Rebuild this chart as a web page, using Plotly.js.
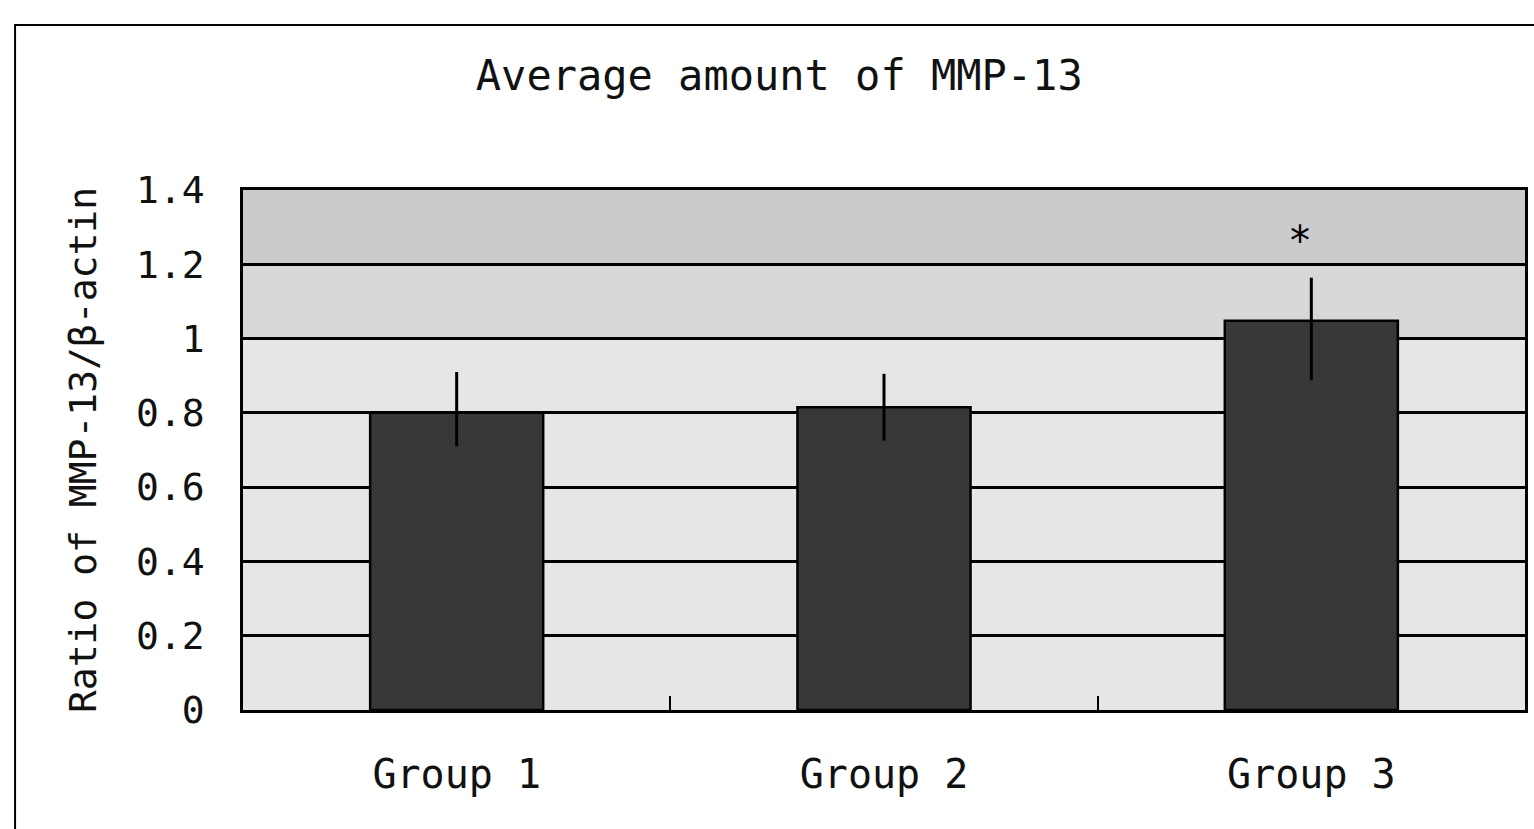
<!DOCTYPE html>
<html>
<head>
<meta charset="utf-8">
<script src="https://cdn.plot.ly/plotly-3.0.1.min.js"></script>
<style>
html,body{margin:0;padding:0;background:#fff;}
#chart{width:1534px;height:829px;}
</style>
</head>
<body>
<div id="chart"></div>
<script>
var categories = ["Group 1", "Group 2", "Group 3"];
var values = [0.80, 0.815, 1.048];
var errPlus = [0.11, 0.09, 0.116];
var errMinus = [0.09, 0.09, 0.16];
var tickVals = [0, 0.2, 0.4, 0.6, 0.8, 1, 1.2, 1.4];
var tickText = ["0", "0.2", "0.4", "0.6", "0.8", "1", "1.2", "1.4"];
var sigMarkY = 1.285;

var FONT = "DejaVu Sans Mono, monospace";

var trace = {
  type: "bar",
  x: categories,
  y: values,
  marker: {color: "#383838", line: {color: "#000", width: 2.5}},
  error_y: {type: "data", symmetric: false, array: errPlus, arrayminus: errMinus,
            width: 0, thickness: 3, color: "#000"},
  hoverinfo: "x+y"
};

var layout = {
  width: 1534, height: 829,
  margin: {l: 243, r: 9, t: 190, b: 119},
  paper_bgcolor: "#fff",
  plot_bgcolor: "#e6e6e6",
  showlegend: false,
  bargap: 0.595,
  title: {text: "Average amount of MMP-13", font: {family: FONT, size: 42, color: "#111"},
          x: 0.508, xref: "container", y: 0.909, yref: "container", yanchor: "middle"},
  xaxis: {
    type: "category",
    showgrid: false, zeroline: false,
    showline: true, linecolor: "#000", linewidth: 2.5, mirror: true,
    ticks: "inside", tickson: "boundaries", ticklen: 14, tickwidth: 2, tickcolor: "#000",
    ticklabelstandoff: 27,
    tickfont: {family: FONT, size: 40, color: "#111"}
  },
  yaxis: {
    range: [0, 1.4],
    tickvals: tickVals, ticktext: tickText,
    showgrid: true, gridcolor: "#000", gridwidth: 3,
    zeroline: false,
    showline: true, linecolor: "#000", linewidth: 2.5, mirror: true,
    ticks: "", ticklabelstandoff: 28,
    tickfont: {family: FONT, size: 38, color: "#111"},
    title: {text: "Ratio of MMP-13/β-actin", font: {family: FONT, size: 38, color: "#111"}, standoff: 28}
  },
  shapes: [
    {type: "rect", xref: "paper", yref: "y", x0: 0, x1: 1, y0: 1.2, y1: 1.4,
     fillcolor: "#cbcbcb", line: {width: 0}, layer: "below"},
    {type: "rect", xref: "paper", yref: "y", x0: 0, x1: 1, y0: 1.0, y1: 1.2,
     fillcolor: "#d8d8d8", line: {width: 0}, layer: "below"},
    {type: "rect", xref: "paper", yref: "paper", x0: -0.1778, x1: 1.05, y0: -0.4, y1: 1.3173,
     fillcolor: "rgba(0,0,0,0)", line: {color: "#000", width: 2}, layer: "above"}
  ],
  annotations: [
    {x: categories[2], y: sigMarkY, xref: "x", yref: "y", text: "*", showarrow: false,
     xshift: -11, yshift: -8, font: {family: "DejaVu Sans", size: 40, color: "#000"}}
  ]
};

Plotly.newPlot("chart", [trace], layout, {displayModeBar: false, responsive: false});
</script>
</body>
</html>
